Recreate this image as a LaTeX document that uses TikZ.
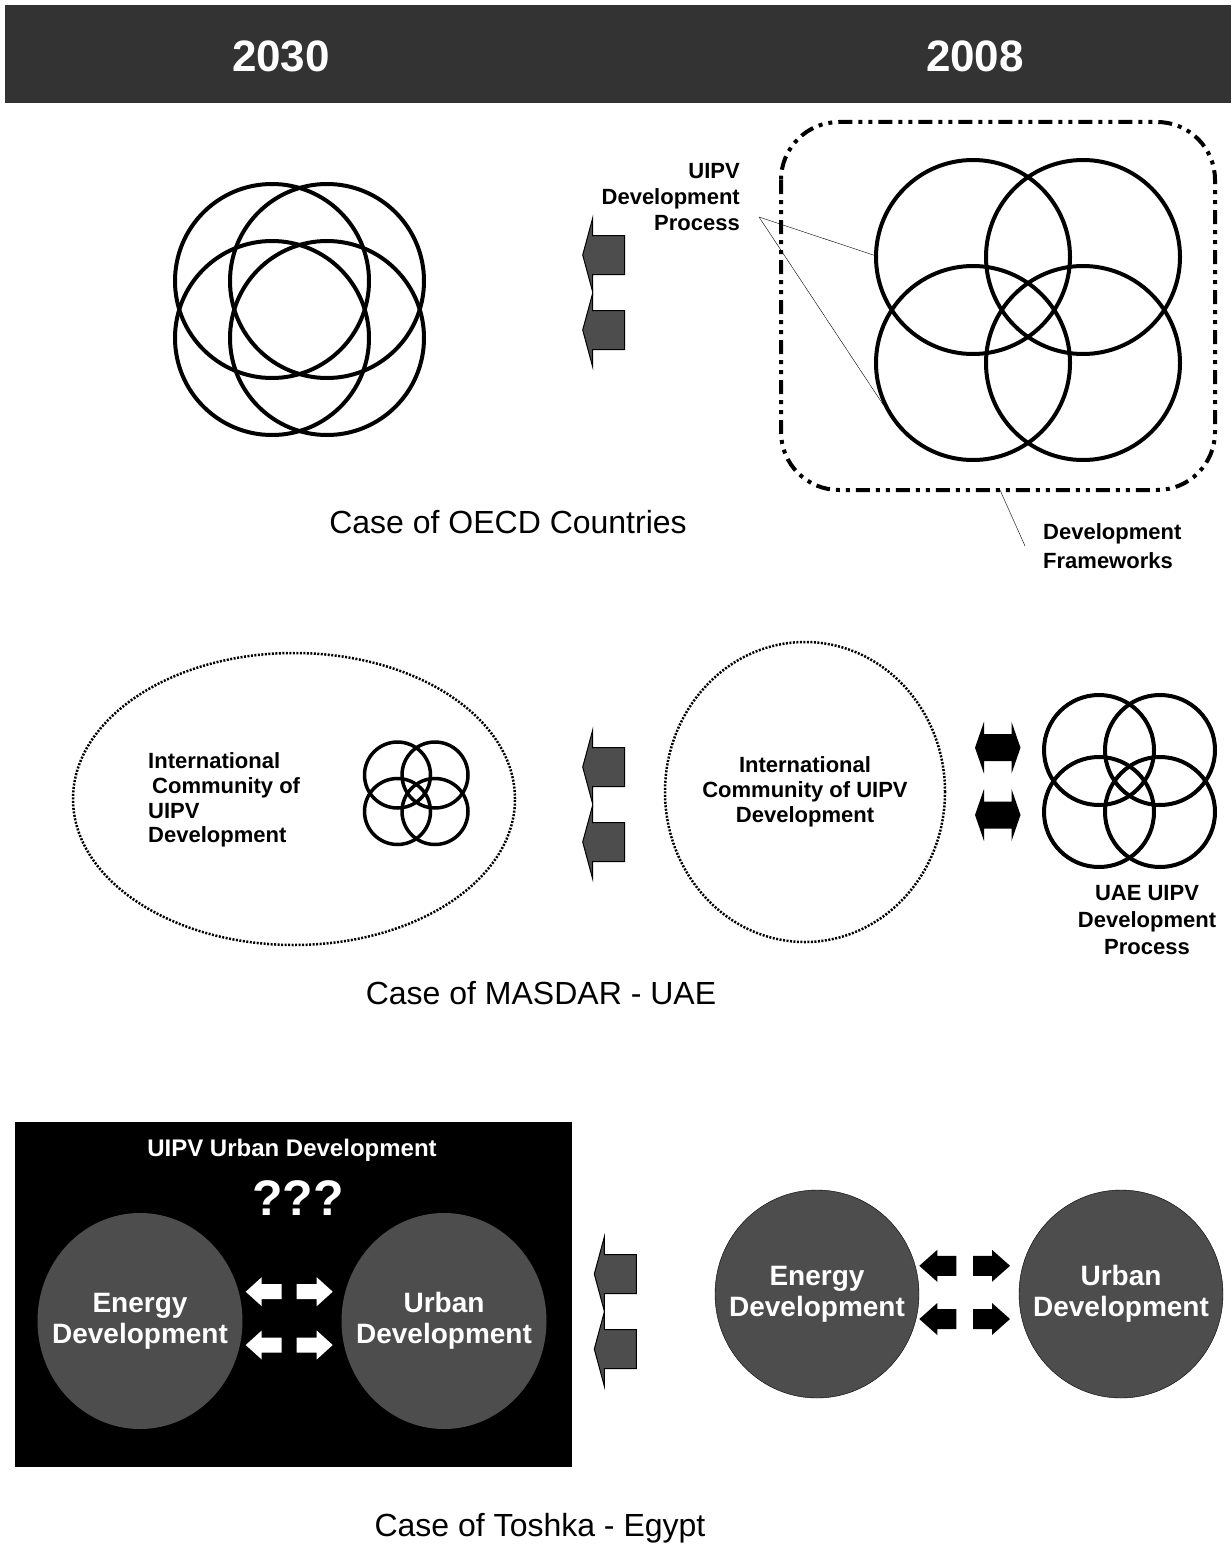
\documentclass[tikz,border=0pt]{standalone}
\usepackage{fontspec}
\setmainfont{Liberation Sans}
\usetikzlibrary{shapes.geometric}

\definecolor{bandgray}{HTML}{333333}
\definecolor{arrowgray}{HTML}{4D4D4D}

\tikzset{
	pics/garrow/.style={code={
		\draw[fill=arrowgray,line width=1pt] (0,0) -- (10,-37) -- (10,-19.5) -- (42,-19.5) -- (42,19.5) -- (10,19.5) -- (10,37) -- cycle;}},
	pics/dblarrow/.style={code={
		\fill (0,0) -- (9,-26) -- (9,-13.5) -- (36.5,-13.5) -- (36.5,-26) -- (45.5,0) -- (36.5,26) -- (36.5,13.5) -- (9,13.5) -- (9,26) -- cycle;}},
	pics/barrow/.style={code={
		\fill (0,0) -- (18,-16) -- (18,-10) -- (37,-10) -- (37,10) -- (18,10) -- (18,16) -- cycle;}},
	pics/warrow/.style={code={
		\fill[white] (0,0) -- (16,-14.5) -- (16,-7.5) -- (36,-7.5) -- (36,7.5) -- (16,7.5) -- (16,14.5) -- cycle;}}
}

\begin{document}
\begin{tikzpicture}
[
	x=1pt,y=-1pt,
	ring/.style={circle,draw,line width=4pt,inner sep=0pt},
	lbl/.style={font=\bfseries\fontsize{22}{26}\selectfont,inner sep=0pt},
	casetxt/.style={font=\fontsize{32}{38}\selectfont,inner sep=0pt},
	year/.style={font=\bfseries\fontsize{44}{50}\selectfont,text=white,inner sep=0pt},
	disc/.style={ellipse,fill=arrowgray,inner sep=0pt},
	disctxt/.style={text=white,align=center,inner sep=0pt,font=\bfseries\fontsize{28}{31}\selectfont},
	cloud/.style={ellipse,draw,line width=2.5pt,dash pattern=on 2pt off 1.5pt,inner sep=0pt}
]
	\useasboundingbox (0,0) rectangle (1231,1544);

	% header band
	\fill[bandgray] (5,5) rectangle (1231,103);
	\node[year] (y2030) at (281,56) {2030};
	\node[year] (y2008) at (975,56) {2008};

	% OECD, 2030
	\node[ring,minimum size=194pt] (oa) at (272,281) {};
	\node[ring,minimum size=194pt] (ob) at (327,281) {};
	\node[ring,minimum size=194pt] (oc) at (272,338) {};
	\node[ring,minimum size=194pt] (od) at (327,338) {};

	\pic (ga) at (582.7,255) {garrow};
	\pic (gb) at (582.7,330) {garrow};

	% OECD, 2008
	\draw[line width=4pt,rounded corners=58pt,
		dash pattern=on 14pt off 6pt on 4pt off 6pt on 4pt off 6pt]
		(781,122) rectangle (1215,490);
	\node[ring,minimum size=194pt] (pa) at (973,257) {};
	\node[ring,minimum size=194pt] (pb) at (1083,257) {};
	\node[ring,minimum size=194pt] (pc) at (973,363) {};
	\node[ring,minimum size=194pt] (pd) at (1083,363) {};

	\node[lbl,align=right,anchor=east] (uipv) at (740,197) {UIPV\\Development\\Process};
	\coordinate (uipvtip) at (759,217);
	\draw[thin] (uipvtip) -- (pa.179);
	\draw[thin] (uipvtip) -- (pc.205);

	\node[lbl,align=left,anchor=west,font=\bfseries\fontsize{22}{29}\selectfont] (frame) at (1043,546) {Development\\Frameworks};
	\coordinate (framefoot) at (1000,490);
	\draw[thin] (framefoot) -- (1025,546);

	\node[casetxt] (oecd) at (508,522) {Case of OECD Countries};

	% MASDAR
	\node[cloud,minimum width=442pt,minimum height=292pt] (intl) at (294,799) {};
	\node[lbl,align=left,anchor=west,font=\bfseries\fontsize{22}{24.7}\selectfont] (intltxt) at (148,800)
		{International\\\hspace{4pt}Community of\\UIPV\\Development};
	\node[ring,line width=3.5pt,minimum size=66pt] (sa) at (397.5,775) {};
	\node[ring,line width=3.5pt,minimum size=66pt] (sb) at (435,775) {};
	\node[ring,line width=3.5pt,minimum size=66pt] (sc) at (397.5,811.5) {};
	\node[ring,line width=3.5pt,minimum size=66pt] (sd) at (435,811.5) {};

	\pic (gc) at (582.7,767) {garrow};
	\pic (gd) at (582.7,842) {garrow};

	\node[cloud,minimum width=280pt,minimum height=300pt] (comm) at (805,792) {};
	\node[lbl,align=center,font=\bfseries\fontsize{22}{24.7}\selectfont] (commtxt) at (comm)
		{International\\Community of UIPV\\Development};

	\pic (da) at (975,747.7) {dblarrow};
	\pic (db) at (975,815) {dblarrow};

	\node[ring,minimum size=110pt] (ua) at (1099,750) {};
	\node[ring,minimum size=110pt] (ub) at (1160,750) {};
	\node[ring,minimum size=110pt] (uc) at (1099,812) {};
	\node[ring,minimum size=110pt] (ud) at (1160,812) {};
	\node[lbl,align=center,font=\bfseries\fontsize{22}{27}\selectfont] (uae) at (1147,920)
		{UAE UIPV\\Development\\Process};

	\node[casetxt] (masdar) at (541,993) {Case of MASDAR - UAE};

	% Toshka
	\fill[black] (15,1122) rectangle (572,1467);
	\node[lbl,text=white,font=\bfseries\fontsize{24}{28}\selectfont] (urbdev) at (292,1150) {UIPV Urban Development};
	\node[text=white,font=\bfseries\fontsize{50}{56}\selectfont,inner sep=0pt] (qqq) at (298,1198) {???};
	\node[disc,minimum width=205pt,minimum height=216pt] (ena) at (140,1321) {};
	\node[disctxt] (enatxt) at (ena) {Energy\\Development};
	\node[disc,minimum width=205pt,minimum height=216pt] (ura) at (444,1321) {};
	\node[disctxt] (uratxt) at (ura) {Urban\\Development};
	\pic (wa) at (245.7,1291.7) {warrow};
	\pic[xscale=-1] (wb) at (332.7,1291.7) {warrow};
	\pic (wc) at (245.7,1345) {warrow};
	\pic[xscale=-1] (wd) at (332.7,1345) {warrow};

	\pic (ge) at (594.3,1274) {garrow};
	\pic (gf) at (594.3,1349) {garrow};

	\node[disc,draw=black,minimum width=204pt,minimum height=208pt] (enb) at (817,1294) {};
	\node[disctxt] (enbtxt) at (enb) {Energy\\Development};
	\node[disc,draw=black,minimum width=204pt,minimum height=208pt] (urb) at (1121,1294) {};
	\node[disctxt] (urbtxt) at (urb) {Urban\\Development};
	\pic (ba) at (919.3,1265.8) {barrow};
	\pic[xscale=-1] (bb) at (1010,1265.8) {barrow};
	\pic (bc) at (919.3,1319) {barrow};
	\pic[xscale=-1] (bd) at (1010,1319) {barrow};

	\node[casetxt] (toshka) at (540,1528) {Case of Toshka - Egypt};

\end{tikzpicture}
\end{document}
